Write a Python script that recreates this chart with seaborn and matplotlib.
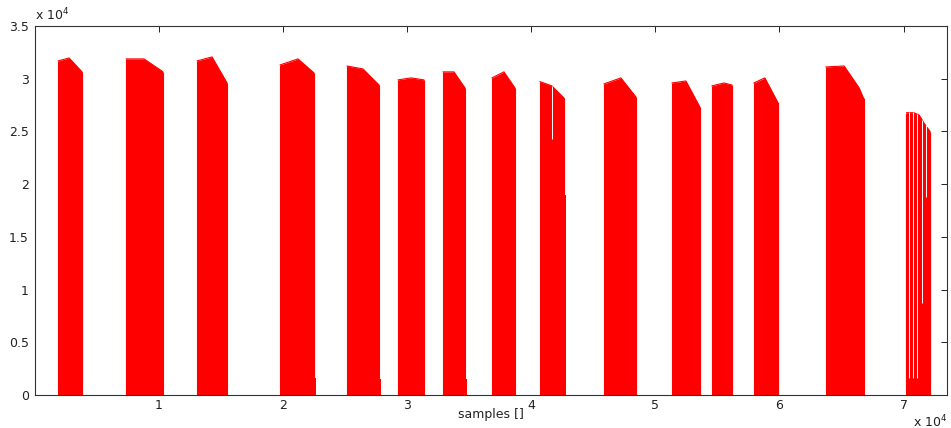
import numpy as np
import pandas as pd
import seaborn as sns
import matplotlib.pyplot as plt

# envelope vertices of each burst (x in samples, y in raw units / 1e4)
block_x = [
    [1900, 2786, 3833],
    [7376, 8825, 10337],
    [13090, 14298, 15506],
    [19776, 21225, 22513],
    [25170, 26458, 27746],
    [29276, 30323, 31370],
    [32900, 33785, 34671],
    [36845, 37811, 38697],
    [40709, 41676, 42666],
    [45864, 47233, 48441],
    [51340, 52467, 53594],
    [54560, 55526, 56171],
    [57942, 58827, 59850],
    [63740, 65213, 66421, 66775],
    [70237, 70825, 71252, 71654, 72137],
]
block_y = [
    [3.169, 3.197, 3.064],
    [3.188, 3.188, 3.067],
    [3.169, 3.207, 2.960],
    [3.131, 3.188, 3.055],
    [3.121, 3.093, 2.941],
    [2.989, 3.008, 2.989],
    [3.065, 3.065, 2.913],
    [3.008, 3.065, 2.913],
    [2.973, 2.932, 2.815],
    [2.951, 3.008, 2.827],
    [2.960, 2.979, 2.732],
    [2.932, 2.960, 2.941],
    [2.960, 3.008, 2.780],
    [3.112, 3.121, 2.913, 2.815],
    [2.678, 2.678, 2.656, 2.578, 2.498],
]

# short low pieces trailing some bursts
tail_x0 = [22513, 27746, 34671, 42666, 72137]
tail_x1 = [22680, 27900, 34830, 42800, 72250]
tail_h = [0.16, 0.15, 0.15, 1.90, 0.16]

# dropouts inside bursts (sample, level the white gap reaches down to)
gap_x = [41701, 70446, 70800, 71122, 71525, 71790]
gap_low = [2.429, 0.16, 0.16, 0.16, 0.873, 1.879]

sns.set_style("white")
plt.rcParams['font.family'] = ['DejaVu Sans']

fig = plt.figure(figsize=(9.51, 4.28), dpi=100)
ax = fig.add_axes([0.0363, 0.0771, 0.9595, 0.8621])

red = '#ff0000'
rows = []
for i, (xs, ys) in enumerate(zip(block_x, block_y)):
    xs = np.array(xs, dtype=float)
    ys = np.array(ys) * 1e4
    ax.fill_between(xs, 0, ys, color=red, linewidth=0)
    ax.vlines([xs[0], xs[-1]], 0, [ys[0], ys[-1]], color=red, linewidth=0.8)
    for x, y in zip(xs, ys):
        rows.append({'block': i, 'sample': x, 'value': y})
env = pd.DataFrame(rows)
sns.lineplot(data=env, x='sample', y='value', units='block', estimator=None,
             color=red, linewidth=0.8, ax=ax, legend=False)

for x0, x1, h in zip(tail_x0, tail_x1, tail_h):
    ax.fill_between([x0, x1], 0, h * 1e4, color=red, linewidth=0)

# white dropouts, top taken from the burst envelope
for gx, gl in zip(gap_x, gap_low):
    for xs, ys in zip(block_x, block_y):
        if xs[0] <= gx <= xs[-1]:
            top = np.interp(gx, xs, ys) * 1e4
            ax.vlines(gx, gl * 1e4, top + 30, color='white', linewidth=0.7)

ax.set_xlim(0, 73500)
ax.set_ylim(0, 35000)
ax.set_xticks(np.arange(1, 8) * 1e4)
ax.set_xticklabels([str(i) for i in range(1, 8)])
ax.set_yticks(np.arange(0, 3.51, 0.5) * 1e4)
ax.set_yticklabels(['0', '0.5', '1', '1.5', '2', '2.5', '3', '3.5'])
ax.set_xlabel('samples []', fontsize=9, labelpad=-3, color='#222222')
ax.set_ylabel('')

ax.tick_params(direction='in', length=4, width=0.7, top=True, right=True,
               labelsize=9, colors='#222222', pad=4)
ax.tick_params(axis='x', pad=3)
for s in ax.spines.values():
    s.set_color('#333333')
    s.set_linewidth(0.8)
    s.set_visible(True)

ax.text(0.0, 1.008, r'x 10$^4$', transform=ax.transAxes, fontsize=9,
        color='#222222', ha='left', va='bottom')
ax.text(1.0, -0.072, r'x 10$^4$', transform=ax.transAxes, fontsize=9,
        color='#222222', ha='right', va='center')

fig.savefig('out.png', dpi=100)
